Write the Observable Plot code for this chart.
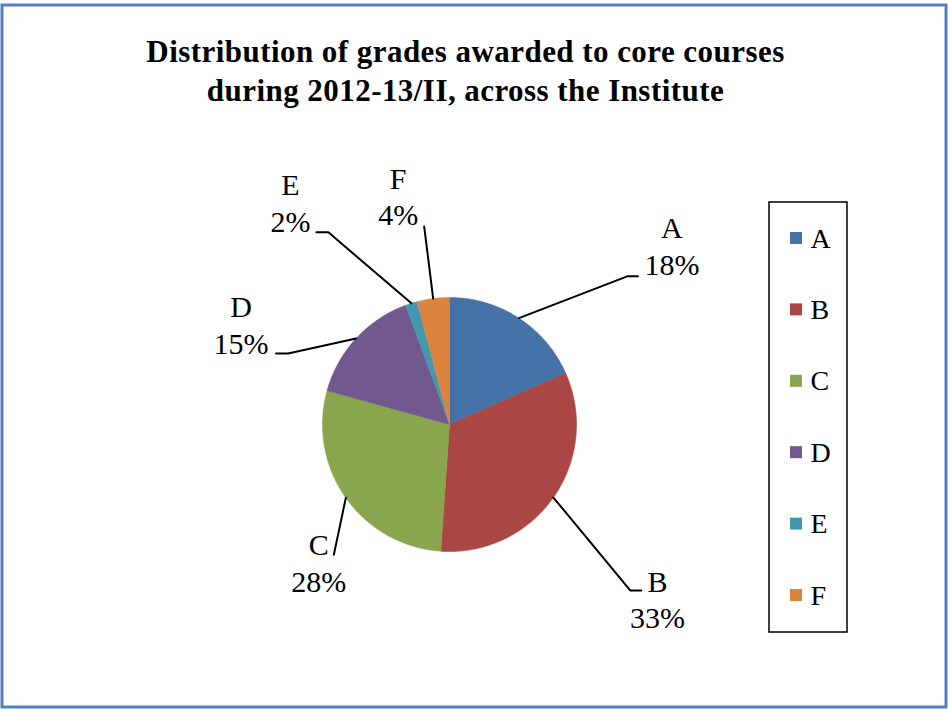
<!DOCTYPE html>
<html><head><meta charset="utf-8">
<script src="https://cdn.jsdelivr.net/npm/d3@7"></script>
<script src="https://cdn.jsdelivr.net/npm/@observablehq/plot@0.6"></script>
<style>html,body{margin:0;padding:0;background:#fff;} #chart svg{display:block;}</style>
</head><body><div id="chart"></div>
<script>
// ---- data ----
const titleLines = ["Distribution of grades awarded to core courses", "during 2012-13/II, across the Institute"];
const categories = ["A", "B", "C", "D", "E", "F"];
const shares = [18.4, 32.7, 28.2, 15.1, 1.5, 4.1];
const percentLabels = ["18%", "33%", "28%", "15%", "2%", "4%"];
const colors = ["#4572A7", "#AA4643", "#89A54E", "#71588F", "#4198AF", "#DB843D"];

// ---- layout (pixels) ----
const W = 948, H = 709, CX = 449, CY = 424, R = 127;
// leader elbow offset from slice edge, horizontal tick, label offset (first-line baseline)
const leaderLayout = [
  {dx: 109, dy: -42, tick: 10, lx: 153, ly: -80},
  {dx: 77, dy: 93, tick: 11, lx: 104, ly: 94},
  {dx: -12, dy: 57, tick: 0, lx: -27, ly: 57},
  {dx: -68, dy: 15, tick: -12, lx: -115, ly: -21},
  {dx: -83, dy: -71, tick: -12, lx: -121, ly: -108},
  {dx: -9, dy: -72, tick: 0, lx: -35, ly: -110}
];
const LABEL_FS = 30, LABEL_LH = 1.23;
const X = p => (p - CX) / R;
const Y = p => (CY - p) / R;

const total = d3.sum(shares);
let acc = 0;
const slices = categories.map((c, i) => {
  const a0 = acc / total * 2 * Math.PI; acc += shares[i];
  const a1 = acc / total * 2 * Math.PI;
  return {c, i, a0, a1, mid: (a0 + a1) / 2};
});
const polyPts = slices.flatMap(s => {
  const n = Math.max(2, Math.ceil((s.a1 - s.a0) / (Math.PI / 360)));
  const pts = [{c: s.c, x: 0, y: 0}];
  for (let k = 0; k <= n; k++) {
    const a = s.a0 + (s.a1 - s.a0) * k / n;
    pts.push({c: s.c, x: Math.sin(a), y: Math.cos(a)});
  }
  pts.push({c: s.c, x: 0, y: 0});
  return pts;
});
const leaderPts = slices.flatMap(s => {
  const L = leaderLayout[s.i];
  const ex = Math.sin(s.mid), ey = Math.cos(s.mid);
  const bx = ex + L.dx / R, by = ey - L.dy / R;
  const pts = [{c: s.c, x: ex, y: ey}, {c: s.c, x: bx, y: by}];
  if (L.tick) pts.push({c: s.c, x: bx + L.tick / R, y: by});
  return pts;
});
const labels = slices.map(s => {
  const L = leaderLayout[s.i];
  const ex = Math.sin(s.mid), ey = Math.cos(s.mid);
  return {text: s.c + "\n" + percentLabels[s.i], x: ex + L.lx / R, y: ey - (L.ly + LABEL_FS * LABEL_LH) / R};
});

// legend layout
const LEG = {x1: 769, x2: 847, y1: 202, y2: 632, sw: 790, ss: 12, first: 238, step: 71.4, tx: 810};

const chart = Plot.plot({
  width: W, height: H, margin: 0,
  x: {domain: [-CX / R, (W - CX) / R], axis: null},
  y: {domain: [-(H - CY) / R, CY / R], axis: null},
  color: {domain: categories, range: colors},
  style: {fontFamily: "'Liberation Serif', 'Times New Roman', serif", background: "white", color: "black"},
  marks: [
    Plot.frame({stroke: "#4F81BD", strokeWidth: 3, insetLeft: 1.5, insetTop: 4.5, insetRight: 2.5, insetBottom: 2.5}),
    Plot.line(polyPts, {x: "x", y: "y", z: "c", fill: "c", stroke: "c", strokeWidth: 0.6, curve: "linear"}),
    Plot.line(leaderPts, {x: "x", y: "y", z: "c", stroke: "black", strokeWidth: 2, curve: "linear"}),
    Plot.text(labels, {x: "x", y: "y", text: "text", fontSize: LABEL_FS, lineHeight: LABEL_LH, lineAnchor: "bottom", fill: "black"}),
    Plot.text([titleLines.join("\n")], {x: () => X(465), y: () => Y(100), text: d => d, fontSize: 31, fontWeight: "bold", lineHeight: 1.23, lineAnchor: "bottom", fill: "black"}),
    Plot.rect([0], {x1: () => X(LEG.x1), x2: () => X(LEG.x2), y1: () => Y(LEG.y1), y2: () => Y(LEG.y2), fill: "white", stroke: "black", strokeWidth: 1.5}),
    Plot.rect(categories, {
      x1: () => X(LEG.sw), x2: () => X(LEG.sw + LEG.ss),
      y1: (d, i) => Y(LEG.first + i * LEG.step - LEG.ss / 2), y2: (d, i) => Y(LEG.first + i * LEG.step + LEG.ss / 2),
      fill: d => d
    }),
    Plot.text(categories, {x: () => X(LEG.tx), y: (d, i) => Y(LEG.first + i * LEG.step + 9), text: d => d, textAnchor: "start", lineAnchor: "bottom", fontSize: 28, fill: "black"})
  ]
});
d3.select(chart).selectAll("text").filter(function() { return this.textContent.startsWith("Distribution"); })
  .style("letter-spacing", "0.45px");
document.getElementById("chart").appendChild(chart);
</script>
</body></html>
